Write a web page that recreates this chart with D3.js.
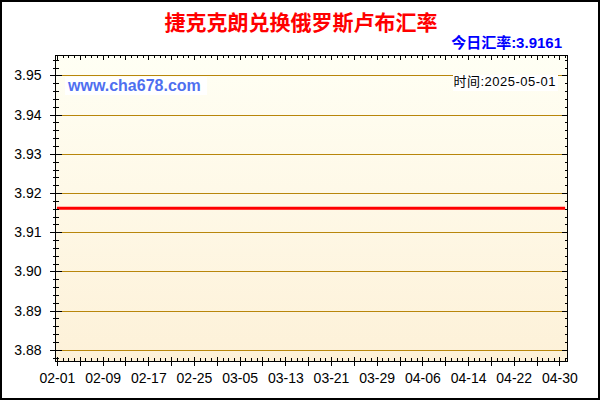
<!DOCTYPE html>
<html>
<head>
<meta charset="utf-8">
<script src="https://cdn.jsdelivr.net/npm/d3@7/dist/d3.min.js"></script>
<style>
body{margin:0;background:#fff}
svg{display:block}
</style>
</head>
<body>
<script>
// daily rate, 02-01 .. 05-01
var startDate = "2025-02-01";
var rates = [
  3.9161,3.9161,3.9161,3.9161,3.9161,3.9161,3.9161,3.9161,3.9161,3.9161,
  3.9161,3.9161,3.9161,3.9161,3.9161,3.9161,3.9161,3.9161,3.9161,3.9161,
  3.9161,3.9161,3.9161,3.9161,3.9161,3.9161,3.9161,3.9161,3.9161,3.9161,
  3.9161,3.9161,3.9161,3.9161,3.9161,3.9161,3.9161,3.9161,3.9161,3.9161,
  3.9161,3.9161,3.9161,3.9161,3.9161,3.9161,3.9161,3.9161,3.9161,3.9161,
  3.9161,3.9161,3.9161,3.9161,3.9161,3.9161,3.9161,3.9161,3.9161,3.9161,
  3.9161,3.9161,3.9161,3.9161,3.9161,3.9161,3.9161,3.9161,3.9161,3.9161,
  3.9161,3.9161,3.9161,3.9161,3.9161,3.9161,3.9161,3.9161,3.9161,3.9161,
  3.9161,3.9161,3.9161,3.9161,3.9161,3.9161,3.9161,3.9161,3.9161,3.9161
];
var yTicks = [3.88,3.89,3.90,3.91,3.92,3.93,3.94,3.95];
var xLabels = ["02-01","02-09","02-17","02-25","03-05","03-13","03-21","03-29","04-06","04-14","04-22","04-30"];
var title = "捷克克朗兑换俄罗斯卢布汇率";
var todayRate = "3.9161";
var dateText = "2025-05-01";
var site = "www.cha678.com";

var W=600,H=400,L=55.5,R=567.5,T=55.5,B=361.5;
var parse=d3.timeParse("%Y-%m-%d");
var start=parse(startDate);
var days=d3.timeDay.range(start,d3.timeDay.offset(start,rates.length));
var data=rates.map(function(v,i){return {d:days[i],v:v};});

var x=d3.scaleTime()
  .domain([d3.timeHour.offset(start,-6),d3.timeHour.offset(days[days.length-1],10)])
  .range([L,R]);
var y=d3.scaleLinear().domain([3.877,3.9551]).range([B,T]);

var svg=d3.select("body").append("svg").attr("width",W).attr("height",H);
var defs=svg.append("defs");
var grad=defs.append("linearGradient").attr("id","bg").attr("x1",0).attr("y1",0).attr("x2",0).attr("y2",1);
grad.append("stop").attr("offset","0%").attr("stop-color","#fffff4");
grad.append("stop").attr("offset","100%").attr("stop-color","#fdf1d8");

svg.append("rect").attr("x",1).attr("y",1).attr("width",W-2).attr("height",H-2)
  .attr("fill","#fff").attr("stroke","#000").attr("stroke-width",2);

svg.append("rect").attr("x",L).attr("y",T).attr("width",R-L).attr("height",B-T).attr("fill","url(#bg)");

// grid
svg.append("g").selectAll("line").data(yTicks).enter().append("line")
  .attr("x1",L).attr("x2",R)
  .attr("y1",function(d){return Math.round(y(d))+0.5;})
  .attr("y2",function(d){return Math.round(y(d))+0.5;})
  .attr("stroke","#b8860b").attr("shape-rendering","crispEdges");

// text boxes
svg.append("rect").attr("x",65).attr("y",77).attr("width",142).attr("height",18).attr("fill","#fff");
svg.append("text").attr("x",68).attr("y",91)
  .attr("font-family","Liberation Sans, Arial, sans-serif").attr("font-weight","bold").attr("font-size",16)
  .attr("fill","#4f6ff0").text(site);
svg.append("rect").attr("x",453).attr("y",75).attr("width",105).attr("height",16).attr("fill","#fff");
svg.append("text").attr("x",556).attr("y",86).attr("text-anchor","end")
  .attr("font-family","Liberation Sans, Noto Sans CJK SC, sans-serif").attr("font-size",13)
  .attr("letter-spacing","0.5px").attr("fill","#000").text("时间:"+dateText);

// line
svg.append("path").datum(data)
  .attr("d",d3.line().x(function(d){return x(d.d);}).y(function(d){return y(d.v);}))
  .attr("fill","none").attr("stroke","#ff0000").attr("stroke-width",3);

// frame
svg.append("rect").attr("x",L).attr("y",T).attr("width",R-L).attr("height",B-T)
  .attr("fill","none").attr("stroke","#000").attr("shape-rendering","crispEdges");

// ticks
var tickDays=d3.timeDay.range(start,d3.timeDay.offset(start,rates.length));
var ticks=svg.append("g").attr("stroke","#000").attr("shape-rendering","crispEdges");
tickDays.forEach(function(d,i){
  var px=Math.round(x(d))+0.5, major=i%4===0;
  ticks.append("line").attr("x1",px).attr("x2",px).attr("y1",B-(major?5:4)).attr("y2",B+(major?4:0));
  ticks.append("line").attr("x1",px).attr("x2",px).attr("y1",T).attr("y2",T+(major?4:2.5));
});
var minorY=d3.range(3878,3956,2).map(function(v){return v/1000;});
minorY.forEach(function(v){
  var major=yTicks.some(function(t){return Math.abs(t-v)<1e-6;});
  var py=Math.round(y(v))+0.5;
  ticks.append("line").attr("x1",L-(major?6:3)).attr("x2",L+(major?6:3)).attr("y1",py).attr("y2",py);
  ticks.append("line").attr("x1",R-(major?6:3)).attr("x2",R).attr("y1",py).attr("y2",py);
});

// axis labels
var yAxis=svg.append("g").attr("transform","translate("+L+",0)")
  .call(d3.axisLeft(y).tickValues(yTicks).tickFormat(d3.format(".2f")).tickSize(0).tickPadding(14));
yAxis.select(".domain").remove();
yAxis.selectAll("text").attr("font-family","Liberation Sans, Arial, sans-serif").attr("font-size",14).attr("fill","#000");

var labelDates=xLabels.map(function(s){return parse("2025-"+s);});
var xAxis=svg.append("g").attr("transform","translate(0,"+B+")")
  .call(d3.axisBottom(x).tickValues(labelDates).tickFormat(function(d,i){return xLabels[i];}).tickSize(0).tickPadding(12));
xAxis.select(".domain").remove();
xAxis.selectAll("text").attr("font-family","Liberation Sans, Arial, sans-serif").attr("font-size",14).attr("fill","#000");

// titles
svg.append("text").attr("x",301).attr("y",30).attr("text-anchor","middle")
  .attr("font-family","Noto Sans CJK SC, sans-serif").attr("font-weight","bold").attr("font-size",21)
  .attr("fill","#ff0000").text(title);
svg.append("text").attr("x",562).attr("y",48).attr("text-anchor","end")
  .attr("font-family","Liberation Sans, Noto Sans CJK SC, sans-serif").attr("font-weight","bold").attr("font-size",15)
  .attr("fill","#0000ff").text("今日汇率:"+todayRate);
</script>
</body>
</html>
